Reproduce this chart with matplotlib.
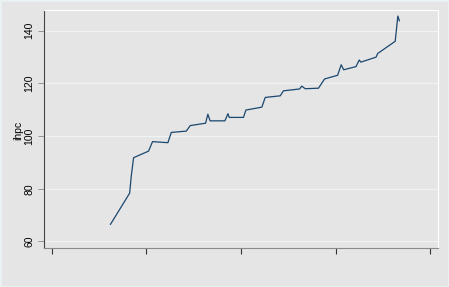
import matplotlib
matplotlib.use("Agg")
import matplotlib.pyplot as plt
from matplotlib.patches import Rectangle

# Data (x in arbitrary time units, ihpc values)
t = [31.1, 41.2, 42.1, 43.3, 51.2, 53.3, 61.4, 63.2, 71.1, 73.2, 81.3, 82.5,
     83.7, 91.5, 93.1, 93.8, 101.3, 102.6, 111.0, 112.8, 120.7, 122.4, 130.9,
     132.1, 133.9, 140.9, 144.1, 151.0, 152.9, 154.2, 160.7, 162.4, 163.3,
     171.3, 172.2, 181.4, 182.8, 183.6]
ihpc = [66.5, 78.3, 85.0, 91.8, 94.3, 97.9, 97.5, 101.4, 101.9, 104.0, 104.9,
        108.3, 105.8, 105.8, 108.5, 107.1, 107.1, 109.9, 111.0, 114.7, 115.3,
        117.2, 117.9, 119.0, 118.0, 118.2, 121.7, 123.1, 127.1, 125.2, 126.4,
        128.9, 128.1, 130.0, 131.4, 136.0, 145.6, 143.8]
yticks = [60, 80, 100, 120, 140]
xticks = [0, 50, 100, 150, 200]

plt.rcParams['font.family'] = ['Liberation Sans', 'DejaVu Sans']

fig = plt.figure(figsize=(4.49, 2.87), dpi=100)
fig.patch.set_facecolor('#e5e5e5')
fig.patches.append(Rectangle((0, 0), 1, 1, transform=fig.transFigure,
                             fill=False, edgecolor='#eaf2f3', linewidth=2))

ax = fig.add_axes([44/449, 1 - 248/287, (438-44)/449, (248-10)/287])
ax.set_facecolor('#e5e5e5')
ax.plot(t, ihpc, color='#1a476f', linewidth=0.9)

ax.set_ylim(57.5, 147.9)
ax.set_xlim(-4.0, 204.0)
ax.set_yticks(yticks)
ax.set_xticks(xticks)
ax.set_xticklabels([])
ax.set_yticklabels([str(v) for v in yticks], rotation=90, va='center',
                   fontsize=7.5)
ax.grid(axis='y', color='#eef3f4', linewidth=0.9)
ax.set_axisbelow(True)

ax.tick_params(axis='y', direction='out', length=4, width=0.6,
               color='#8a8a8a', pad=3)
ax.tick_params(axis='x', direction='out', length=4, width=0.8,
               color='#333333')

for s in ['top', 'right']:
    ax.spines[s].set_color('#ffffff')
    ax.spines[s].set_linewidth(0.8)
ax.spines['left'].set_color('#444444')
ax.spines['left'].set_linewidth(0.8)
ax.spines['bottom'].set_color('#8a8a8a')
ax.spines['bottom'].set_linewidth(0.8)

ax.set_ylabel('ihpc', fontsize=7.5)
ax.yaxis.set_label_coords(-0.053, 0.495)

fig.savefig('out.png', dpi=100, facecolor=fig.get_facecolor())
